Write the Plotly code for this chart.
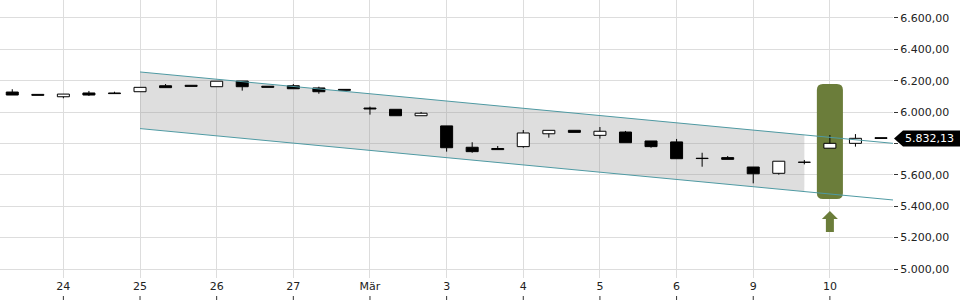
import plotly.graph_objects as go

# ---- data (8-hour candles, 23 Feb - 10 Mar) ----
tick_idx = [2, 5, 8, 11, 14, 17, 20, 23, 26, 29, 32]
tick_text = ["24", "25", "26", "27", "Mär", "3", "4", "5", "6", "9", "10"]

open_ = [6128, 6113, 6098, 6122, 6122, 6130, 6168, 6171, 6162, 6198, 6165, 6168,
         6154, 6145, 6026, 6018, 5977, 5912, 5776, 5768, 5780, 5862, 5884, 5852,
         5873, 5816, 5810, 5706, 5710, 5650, 5610, 5681, 5770, 5801, 5837]
high = [6146, 6113, 6115, 6135, 6130, 6158, 6179, 6171, 6197, 6198, 6165, 6179,
        6162, 6145, 6035, 6018, 6001, 5912, 5808, 5784, 5886, 5884, 5884, 5905,
        5880, 5816, 5829, 5741, 5720, 5650, 5687, 5695, 5854, 5860, 5837]
low = [6109, 6107, 6088, 6103, 6118, 6130, 6156, 6164, 6162, 6137, 6158, 6149,
       6117, 6139, 5984, 5977, 5977, 5748, 5741, 5761, 5773, 5837, 5871, 5831,
       5805, 5773, 5703, 5652, 5699, 5546, 5601, 5667, 5770, 5780, 5832.13]
close = [6109, 6107, 6115, 6109, 6118, 6158, 6156, 6164, 6197, 6162, 6158, 6149,
         6130, 6139, 6020, 5977, 5993, 5773, 5748, 5761, 5867, 5884, 5871, 5878,
         5805, 5780, 5703, 5704, 5699, 5607, 5687, 5680, 5801, 5833, 5832.13]

# trend channel (candle index, value)
channel_x = [5, 34.47]
channel_upper = [6256, 5801]
channel_lower = [5895, 5440]
fill_x = [5, 31, 31, 5]
fill_y = [6256, 5855, 5494, 5895]

# signal marker
signal_idx = 32
signal_top = 6179
signal_bottom = 5446

last_price = 5832.13

y_ticks = [5000, 5200, 5400, 5600, 5800, 6000, 6200, 6400, 6600]
hidden_y_tick = 5800  # covered by the last-price label

# ---- geometry ----
W, H = 960, 300
M_L, M_R, M_T, M_B = 0, 67, 0, 22
X_RANGE = [-0.48, 34.47]
Y_RANGE = [4942.6, 6714.7]
plot_w = W - M_L - M_R
plot_h = H - M_T - M_B
ux = (X_RANGE[1] - X_RANGE[0]) / plot_w   # data units per px
uy = (Y_RANGE[1] - Y_RANGE[0]) / plot_h

GREEN = "#6b7d3a"
TEAL = "#4f9aa3"
GRID = "#dddddd"


def de(v):
    return f"{v:,.2f}".replace(",", "X").replace(".", ",").replace("X", ".")


n = len(open_)
xs = list(range(n))

fig = go.Figure()

# channel fill (between gridlines and traces)
fill_path = "M" + " L".join(f"{fx},{fy}" for fx, fy in zip(fill_x, fill_y)) + " Z"
fig.add_shape(type="path", path=fill_path, fillcolor="rgba(150,150,150,0.31)",
              line=dict(width=0), layer="between")

# signal rounded box
x0 = signal_idx - 0.51
x1 = signal_idx + 0.51
y0, y1 = signal_bottom, signal_top
rx, ry = 6 * ux, 6 * uy
box_path = (f"M{x0+rx},{y1} L{x1-rx},{y1} Q{x1},{y1} {x1},{y1-ry} "
            f"L{x1},{y0+ry} Q{x1},{y0} {x1-rx},{y0} L{x0+rx},{y0} "
            f"Q{x0},{y0} {x0},{y0+ry} L{x0},{y1-ry} Q{x0},{y1} {x0+rx},{y1} Z")
fig.add_shape(type="path", path=box_path, fillcolor=GREEN, line=dict(width=0), layer="between")

# arrow below the signal box
tip = signal_bottom - 12 * uy
head_b = tip - 8 * uy
shaft_b = tip - 21 * uy
hw, sw = 8 * ux, 4 * ux
arrow_path = (f"M{signal_idx},{tip} L{signal_idx+hw},{head_b} L{signal_idx+sw},{head_b} "
              f"L{signal_idx+sw},{shaft_b} L{signal_idx-sw},{shaft_b} L{signal_idx-sw},{head_b} "
              f"L{signal_idx-hw},{head_b} Z")
fig.add_shape(type="path", path=arrow_path, fillcolor=GREEN, line=dict(width=0), layer="above")

# bodies
for up in (True, False):
    bx, bb, bh = [], [], []
    for i in xs:
        if (close[i] >= open_[i]) == up:
            bx.append(i)
            bb.append(min(open_[i], close[i]))
            bh.append(abs(close[i] - open_[i]))
    fig.add_trace(go.Bar(x=bx, y=bh, base=bb, width=0.47,
                         marker=dict(color="white" if up else "black",
                                     line=dict(color="black", width=1)),
                         hoverinfo="skip"))

# wicks (upper and lower parts, outside the body)
wx, wy = [], []
for i in xs:
    top = max(open_[i], close[i])
    bot = min(open_[i], close[i])
    if high[i] > top:
        wx += [i, i, None]
        wy += [top, high[i], None]
    if low[i] < bot:
        wx += [i, i, None]
        wy += [bot, low[i], None]
fig.add_trace(go.Scatter(x=wx, y=wy, mode="lines", line=dict(color="black", width=1),
                         hoverinfo="skip"))

# channel lines
fig.add_trace(go.Scatter(x=channel_x, y=channel_upper, mode="lines",
                         line=dict(color=TEAL, width=1), hoverinfo="skip", cliponaxis=False))
fig.add_trace(go.Scatter(x=channel_x, y=channel_lower, mode="lines",
                         line=dict(color=TEAL, width=1), hoverinfo="skip", cliponaxis=False))

# bottom tick marks (below the labels)
for t in tick_idx:
    fig.add_shape(type="line", xref="x", yref="paper", x0=t, x1=t,
                  y0=-18 / plot_h, y1=-22 / plot_h,
                  line=dict(color="#333333", width=1))

# last price label
fig.add_shape(type="path", xref="paper", yref="y", xsizemode="pixel", ysizemode="pixel",
              xanchor=1, yanchor=last_price,
              path="M1,0 L10,8 L67,8 L67,-8 L10,-8 Z",
              fillcolor="black", line=dict(width=0), layer="above")
fig.add_annotation(xref="paper", yref="y", x=1, y=last_price, xanchor="left", yanchor="middle",
                   xshift=10, showarrow=False, text=de(last_price),
                   font=dict(color="white", size=11, family="DejaVu Sans"))

fig.update_layout(
    width=W, height=H,
    margin=dict(l=M_L, r=M_R, t=M_T, b=M_B, pad=0),
    plot_bgcolor="white", paper_bgcolor="white",
    showlegend=False, barmode="overlay", separators=",.",
    font=dict(family="DejaVu Sans", size=11, color="#222222"),
    hovermode=False,
)
fig.update_xaxes(range=X_RANGE, tickmode="array", tickvals=tick_idx, ticktext=tick_text,
                 showgrid=True, gridcolor=GRID, gridwidth=1, ticks="", zeroline=False,
                 showline=False, fixedrange=True)
fig.update_yaxes(side="right", range=Y_RANGE, tickmode="array",
                 tickvals=y_ticks, ticktext=["" if v == hidden_y_tick else de(v) for v in y_ticks],
                 ticks="outside", ticklen=4, tickcolor="#333333", showgrid=True,
                 gridcolor=GRID, gridwidth=1, zeroline=False, showline=False, fixedrange=True)

fig.write_html("out.html")
